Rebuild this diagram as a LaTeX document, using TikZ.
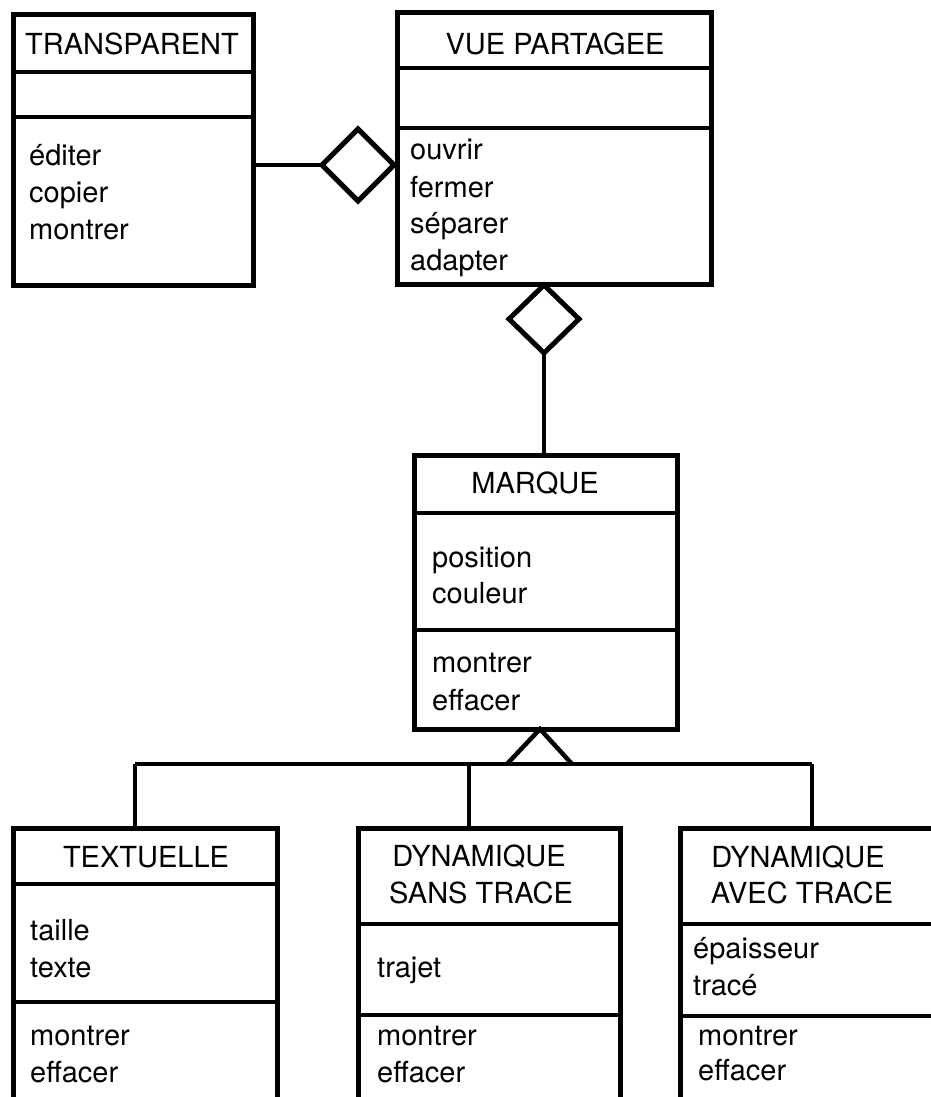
\documentclass[tikz,border=0pt]{standalone}
\usepackage{fontspec}
\setmainfont{TeX Gyre Heros}
\usetikzlibrary{shapes.geometric}

\begin{document}
\begin{tikzpicture}[x=1pt,y=-1pt,
  cls/.style={draw, line width=5pt, rectangle, inner sep=0pt, outer sep=0pt},
  sepline/.style={line width=4pt},
  conn/.style={line width=4pt},
  aggr/.style={draw, line width=5pt, diamond, aspect=1, inner sep=0pt, outer sep=0pt, fill=white},
  gen/.style={line width=4.5pt, line join=miter},
  hdr/.style={font=\fontsize{29}{35}\selectfont, anchor=base, inner sep=0pt},
  txt/.style={font=\fontsize{29}{35}\selectfont, anchor=base west, inner sep=0pt}]

\useasboundingbox (0,0) rectangle (931,1097);
\clip (0,0) rectangle (931,1097);

% ---------- TRANSPARENT ----------
\node[cls, minimum width=240pt, minimum height=270pt] (transp) at (133,150) {};
\draw[sepline] (transp.west |- 0,72) -- (transp.east |- 0,72);
\draw[sepline] (transp.west |- 0,117) -- (transp.east |- 0,117);
\node[hdr] (transp-h) at (132,55) {TRANSPARENT};
\node[txt] (transp-o1) at (29,165) {éditer};
\node[txt] (transp-o2) at (29,202) {copier};
\node[txt] (transp-o3) at (29,239) {montrer};

% ---------- VUE PARTAGEE ----------
\node[cls, minimum width=314pt, minimum height=271pt] (vue) at (554,148.5) {};
\draw[sepline] (vue.west |- 0,68) -- (vue.east |- 0,68);
\draw[sepline] (vue.west |- 0,128) -- (vue.east |- 0,128);
\node[hdr] (vue-h) at (555,55) {VUE PARTAGEE};
\node[txt] (vue-o1) at (410,160) {ouvrir};
\node[txt] (vue-o2) at (410,197) {fermer};
\node[txt] (vue-o3) at (410,233) {séparer};
\node[txt] (vue-o4) at (410,270) {adapter};

% aggregation TRANSPARENT -> VUE PARTAGEE
\node[aggr, minimum width=72pt, minimum height=72pt] (agg1) at (358,165) {};
\draw[conn] (transp.east |- agg1.west) -- (agg1.west);

% ---------- MARQUE ----------
\node[cls, minimum width=263pt, minimum height=274pt] (marque) at (545.5,592) {};
\draw[sepline] (marque.west |- 0,513) -- (marque.east |- 0,513);
\draw[sepline] (marque.west |- 0,630) -- (marque.east |- 0,630);
\node[hdr] (marque-h) at (535,493) {MARQUE};
\node[txt] (marque-a1) at (432,567) {position};
\node[txt] (marque-a2) at (432,603) {couleur};
\node[txt] (marque-o1) at (432,672) {montrer};
\node[txt] (marque-o2) at (432,710) {effacer};

% aggregation MARQUE -> VUE PARTAGEE
\node[aggr, minimum width=70pt, minimum height=68pt] (agg2) at (544,319) {};
\draw[conn] (agg2.south) -- (agg2.south |- marque.north);

% ---------- TEXTUELLE ----------
\node[cls, minimum width=264pt, minimum height=300pt] (textu) at (145,978) {};
\draw[sepline] (textu.west |- 0,884) -- (textu.east |- 0,884);
\draw[sepline] (textu.west |- 0,1002) -- (textu.east |- 0,1002);
\node[hdr] (textu-h) at (146,867) {TEXTUELLE};
\node[txt] (textu-a1) at (30,940) {taille};
\node[txt] (textu-a2) at (30,977) {texte};
\node[txt] (textu-o1) at (30,1045) {montrer};
\node[txt] (textu-o2) at (30,1082) {effacer};

% ---------- DYNAMIQUE SANS TRACE ----------
\node[cls, minimum width=262pt, minimum height=300pt] (dsans) at (489,978) {};
\draw[sepline] (dsans.west |- 0,924) -- (dsans.east |- 0,924);
\draw[sepline] (dsans.west |- 0,1015) -- (dsans.east |- 0,1015);
\node[hdr] (dsans-h1) at (479,866) {DYNAMIQUE};
\node[hdr] (dsans-h2) at (481,903) {SANS TRACE};
\node[txt] (dsans-a1) at (377,977) {trajet};
\node[txt] (dsans-o1) at (377,1045) {montrer};
\node[txt] (dsans-o2) at (377,1082) {effacer};

% ---------- DYNAMIQUE AVEC TRACE ----------
\node[cls, minimum width=265pt, minimum height=300pt] (davec) at (812.5,978) {};
\draw[sepline] (davec.west |- 0,924) -- (davec.east |- 0,924);
\draw[sepline] (davec.west |- 0,1016) -- (davec.east |- 0,1016);
\node[hdr] (davec-h1) at (798,867) {DYNAMIQUE};
\node[hdr] (davec-h2) at (802,903) {AVEC TRACE};
\node[txt] (davec-a1) at (693,958) {épaisseur};
\node[txt] (davec-a2) at (693,995) {tracé};
\node[txt] (davec-o1) at (698,1045) {montrer};
\node[txt] (davec-o2) at (698,1080) {effacer};

% ---------- generalisation ----------
\coordinate (j1) at (135,764);
\coordinate (j2) at (469,764);
\coordinate (j3) at (812,764);
\coordinate (apex) at (marque.south -| 540,0);
\draw[conn] (j1) -- (j3);
\draw[conn] (j1) -- (j1 |- textu.north);
\draw[conn] (j2) -- (j2 |- dsans.north);
\draw[conn] (j3) -- (j3 |- davec.north);
\draw[gen] (507,764) -- (apex) -- (572,764);
\end{tikzpicture}
\end{document}
